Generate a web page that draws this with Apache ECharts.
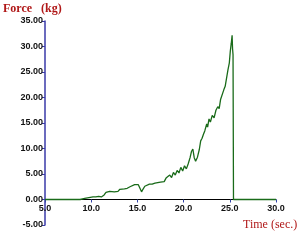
<!DOCTYPE html>
<html><head><meta charset="utf-8">
<script src="https://cdn.jsdelivr.net/npm/echarts@6/dist/echarts.min.js"></script>
<style>html,body{margin:0;padding:0;background:#fff}#c{width:300px;height:240px}</style>
</head><body><div id="c"></div>
<script>
var times = [5,8.8,9.0,9.3,9.6,9.9,10.2,10.5,10.8,11.1,11.4,11.6,11.8,12.0,12.2,12.5,12.7,12.9,13.1,13.3,13.6,13.9,14.2,14.4,14.7,14.9,15.1,15.3,15.45,15.6,15.8,16.0,16.3,16.6,16.9,17.2,17.5,17.7,17.9,18.1,18.3,18.5,18.7,18.9,19.1,19.3,19.5,19.7,19.9,20.1,20.3,20.5,20.7,20.85,21.0,21.15,21.3,21.5,21.7,21.85,22.0,22.15,22.3,22.5,22.6,22.75,22.9,23.1,23.3,23.5,23.7,23.85,24.0,24.2,24.35,24.5,24.65,24.8,24.95,25.05,25.15,25.25,25.3,25.35,25.4,30];
var forces = [0,0,0.1,0.2,0.3,0.4,0.5,0.5,0.6,0.5,0.9,1.4,1.2,1.6,1.3,1.5,1.2,1.6,2.0,1.7,2.1,2.2,2.5,2.3,2.9,2.6,2.9,2.7,1.5,2.0,2.6,2.8,3.0,3.0,3.2,3.3,3.4,3.6,3.5,4.2,3.9,4.8,4.3,5.3,4.8,5.7,5.2,6.3,5.6,6.6,6.0,7.0,8.2,9.4,9.9,8.2,7.5,8.3,9.8,11.5,12.0,12.8,13.5,14.8,14.2,15.8,15.2,16.5,16.0,17.5,18.2,17.8,19.6,19.3,21.5,22.2,21.9,25.4,26.8,29.0,30.5,32.2,29.5,28.4,0,0];
var yTitle = 'Force   (kg)';
var xTitle = 'Time (sec.)';

var data = times.map(function(t,i){return [t, forces[i]];});
var chart = echarts.init(document.getElementById('c'));
chart.setOption({
  animation:false,
  grid:{left:45,right:24,top:21,bottom:15},
  graphic:[
    {type:'text',left:3,top:3,style:{text:yTitle,font:'bold 12px "Liberation Serif", serif',fill:'#b01818'}},
    {type:'text',left:243,top:219,style:{text:xTitle,font:'12px "Liberation Serif", serif',fill:'#b01818'}}
  ],
  xAxis:{type:'value',min:5,max:30,interval:5,offset:-25.5,
    axisLine:{onZero:false,lineStyle:{color:'#000',width:1}},
    axisTick:{show:true,length:3,lineStyle:{color:'#3344aa'}},
    axisLabel:{formatter:function(v){return v.toFixed(1);},fontSize:9,fontFamily:'Arial',fontWeight:'bold',color:'#111',margin:5},
    splitLine:{show:false}},
  yAxis:{type:'value',min:-5,max:35,interval:5,
    axisLine:{show:true,lineStyle:{color:'#3a3aa8',width:1.5}},
    axisTick:{show:true,length:3,lineStyle:{color:'#3a3aa8'}},
    axisLabel:{formatter:function(v){return v.toFixed(2);},fontSize:9,fontFamily:'Arial',fontWeight:'bold',color:'#111',margin:2},
    splitLine:{show:false}},
  series:[{type:'line',data:data,showSymbol:false,symbol:'none',
    lineStyle:{color:'#1a6b1a',width:1.3}}]
});
</script></body></html>
